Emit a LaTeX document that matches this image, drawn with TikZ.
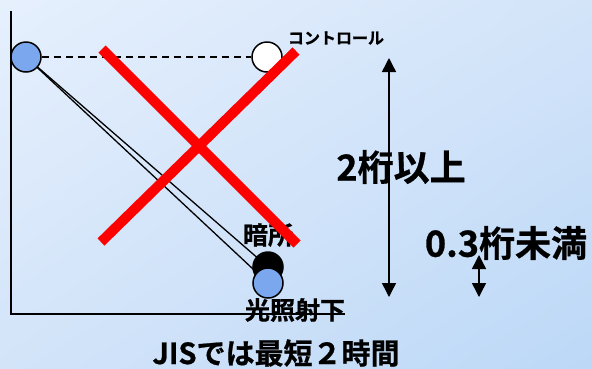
\documentclass[tikz,border=0pt]{standalone}
\usepackage{fontspec}
\setmainfont{Noto Sans CJK JP}[UprightFont=* Bold, UprightFeatures={FakeBold=0.8}]
\usetikzlibrary{arrows.meta,shadings}
\pgfdeclarelayer{bg}
\pgfdeclarelayer{lines}
\pgfsetlayers{bg,lines,main}
\definecolor{bgtl}{RGB}{230,240,253}
\definecolor{bgmid}{RGB}{211,228,249}
\definecolor{bgbr}{RGB}{188,216,247}
\definecolor{ballblue}{RGB}{122,167,237}
\tikzset{
  ball/.style={circle, draw=black, line width=1.5pt, minimum size=30pt, inner sep=0pt},
  lbl/.style={inner sep=0pt, anchor=center, text=black},
  cross/.style={draw=red, line width=10pt},
  axis/.style={draw=black, line width=2pt},
  dim/.style={draw=black, line width=1.5pt, {Triangle[width=14pt,length=14pt]}-{Triangle[width=14pt,length=14pt]}},
}
\begin{document}
\begin{tikzpicture}[x=1pt,y=-1pt]
\useasboundingbox (0,0) rectangle (592,368);
\begin{pgfonlayer}{bg}
\shade[upper left=bgtl, upper right=bgmid, lower left=bgmid, lower right=bgbr] (0,0) rectangle (592,368);
\end{pgfonlayer}
% axes
\coordinate (ytop) at (11,11);
\coordinate (orig) at (11,314);
\coordinate (xend) at (345,314);
\draw[axis] (ytop) -- (orig) -- (xend);
% balls
\node[ball, fill=ballblue] (start) at (26,57) {};
\node[ball, fill=white] (ctl) at (267,57) {};
\node[ball, fill=black] (dark) at (268,267) {};
\node[ball, fill=ballblue] (light) at (268,283) {};
\begin{pgfonlayer}{lines}
\draw[black, line width=1.5pt, dash pattern=on 7pt off 5pt] (start.east) -- (ctl.west);
\draw[black, line width=1.3pt] (start.center) -- (dark.center);
\draw[black, line width=1.3pt] (start.center) -- (light.center);
\end{pgfonlayer}
% labels
\node[lbl, font=\fontsize{16}{16}\selectfont] (lctl) at (336,38) {コントロール};
\node[lbl, font=\fontsize{25}{25}\selectfont] (ldark) at (268,235) {暗所};
\node[lbl, font=\fontsize{25}{25}\selectfont] (llight) at (295,310) {光照射下};
\node[lbl, font=\fontsize{36}{36}\selectfont] (lbig) at (401,167) {2桁以上};
\node[lbl, font=\fontsize{36}{36}\selectfont] (lsmall) at (506,243) {0.3桁未満};
\node[lbl, font=\fontsize{29}{29}\selectfont] (ljis) at (276,353) {JISでは最短２時間};
% red cross
\coordinate (x1a) at (102,49);
\coordinate (x1b) at (297,244);
\coordinate (x2a) at (296,51);
\coordinate (x2b) at (101,242);
\draw[cross] (x1a) -- (x1b);
\draw[cross] (x2a) -- (x2b);
% dimension arrows
\coordinate (bt) at (389,58);
\coordinate (bb) at (389,297);
\coordinate (st) at (479,255);
\coordinate (sb) at (479,297);
\draw[dim] (bt) -- (bb);
\draw[dim] (st) -- (sb);
\end{tikzpicture}
\end{document}
